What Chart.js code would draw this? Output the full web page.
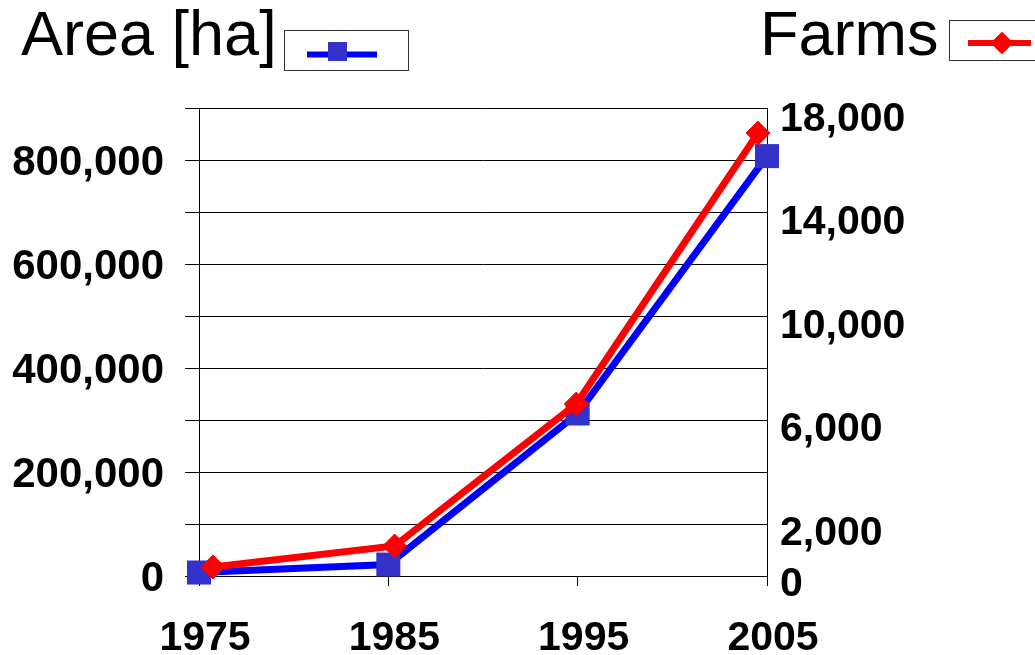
<!DOCTYPE html>
<html>
<head>
<meta charset="utf-8">
<script src="https://cdn.jsdelivr.net/npm/chart.js@4"></script>
<style>
  body { margin: 0; background: #fff; }
  #wrap { width: 1035px; height: 655px; }
</style>
</head>
<body>
<div id="wrap"><canvas id="farmChart" width="1035" height="655"></canvas></div>
<script>
const years = ['1975', '1985', '1995', '2005'];
const areaHa = [6700, 22000, 312500, 807500];
const farmCount = [350, 1160, 6650, 17130];
const rightTicks = [0, 2000, 6000, 10000, 14000, 18000];

const AREA_LINE = '#0000ff';
const AREA_POINT = '#3333cc';
const FARM_RED = '#ff0000';

// legend boxes sit above the plot, drawn by hand like the original
const legendPlugin = {
    id: 'boxLegend',
    afterDraw(chart) {
        const ctx = chart.ctx;
        ctx.save();
        ctx.fillStyle = '#000';
        ctx.font = '63px "Liberation Sans", Arial, sans-serif';
        ctx.textBaseline = 'alphabetic';
        ctx.fillText('Area [ha]', 21, 55);
        ctx.fillText('Farms', 760, 55);

        ctx.strokeStyle = '#333';
        ctx.lineWidth = 1;
        ctx.strokeRect(284.5, 30.5, 124, 40);
        ctx.strokeRect(949.5, 20.5, 200, 40);

        // area sample
        ctx.strokeStyle = AREA_LINE;
        ctx.lineWidth = 6;
        ctx.beginPath();
        ctx.moveTo(307, 54.5);
        ctx.lineTo(377, 54.5);
        ctx.stroke();
        ctx.fillStyle = AREA_POINT;
        ctx.fillRect(328, 42, 19, 19);

        // farms sample
        ctx.strokeStyle = FARM_RED;
        ctx.beginPath();
        ctx.moveTo(968, 43);
        ctx.lineTo(1031, 43);
        ctx.stroke();
        ctx.fillStyle = FARM_RED;
        ctx.lineJoin = 'round';
        ctx.lineWidth = 2;
        ctx.beginPath();
        ctx.moveTo(1002, 33);
        ctx.lineTo(1012, 43);
        ctx.lineTo(1002, 53);
        ctx.lineTo(992, 43);
        ctx.closePath();
        ctx.fill();
        ctx.stroke();
        ctx.restore();
    }
};

function fmt(v) {
    return Number(v).toLocaleString('en-US');
}

let ctx = document.getElementById('farmChart').getContext('2d');
let farmChart = new Chart(ctx, {
    type: 'line',
    data: {
        labels: years,
        datasets: [
            {
                label: 'Farms',
                data: years.map((y, i) => ({ x: Number(y), y: farmCount[i] })),
                xAxisID: 'x2',
                yAxisID: 'yRight',
                borderColor: FARM_RED,
                borderWidth: 7,
                pointStyle: 'rectRot',
                pointRadius: 12,
                pointBackgroundColor: FARM_RED,
                pointBorderColor: FARM_RED,
                pointBorderWidth: 1,
                tension: 0,
                clip: false,
                order: 0
            },
            {
                label: 'Area [ha]',
                data: areaHa,
                xAxisID: 'x',
                yAxisID: 'yLeft',
                borderColor: AREA_LINE,
                borderWidth: 7,
                pointStyle: 'rect',
                pointRadius: 17,
                pointBackgroundColor: AREA_POINT,
                pointBorderWidth: 0,
                tension: 0,
                clip: false,
                order: 1
            }
        ]
    },
    options: {
        responsive: false,
        animation: false,
        events: [],
        layout: { padding: { top: 108, left: 0, right: 0, bottom: 0 } },
        plugins: {
            legend: { display: false },
            tooltip: { enabled: false }
        },
        scales: {
            x: {
                type: 'category',
                offset: false,
                afterFit: function (axis) { axis.height = 79; },
                grid: { drawOnChartArea: false, drawTicks: true, tickLength: 10, color: '#000' },
                border: { display: true, color: '#000', width: 1 },
                ticks: {
                    color: '#000',
                    padding: 28,
                    labelOffset: 6,
                    maxRotation: 0,
                    autoSkip: false,
                    font: { family: '"Liberation Sans", Arial, sans-serif', size: 41, weight: 'bold' }
                }
            },
            x2: {
                type: 'linear',
                display: false,
                min: 1974.23,
                max: 2005.5
            },
            yLeft: {
                position: 'left',
                min: 0,
                max: 900000,
                afterFit: function (axis) { axis.width = 199; },
                grid: { color: '#000', lineWidth: 1, tickLength: 14, drawTicks: true },
                border: { display: true, color: '#000', width: 1 },
                ticks: {
                    stepSize: 100000,
                    autoSkip: false,
                    color: '#000',
                    padding: 21,
                    labelOffset: 3,
                    font: { family: '"Liberation Sans", Arial, sans-serif', size: 42, weight: 'bold' },
                    callback: function (value) {
                        return value % 200000 === 0 ? fmt(value) : '';
                    }
                }
            },
            yRight: {
                position: 'right',
                min: 0,
                max: 18100,
                afterFit: function (axis) { axis.width = 268; },
                afterBuildTicks: function (axis) {
                    axis.ticks = rightTicks.map(v => ({ value: v }));
                },
                grid: { display: true, drawOnChartArea: false, drawTicks: false },
                border: { display: true, color: '#000', width: 1 },
                ticks: {
                    autoSkip: false,
                    color: '#000',
                    padding: 13,
                    labelOffset: 9,
                    font: { family: '"Liberation Sans", Arial, sans-serif', size: 41, weight: 'bold' },
                    callback: function (value) { return fmt(value); }
                }
            }
        }
    },
    plugins: [legendPlugin]
});
</script>
</body>
</html>
